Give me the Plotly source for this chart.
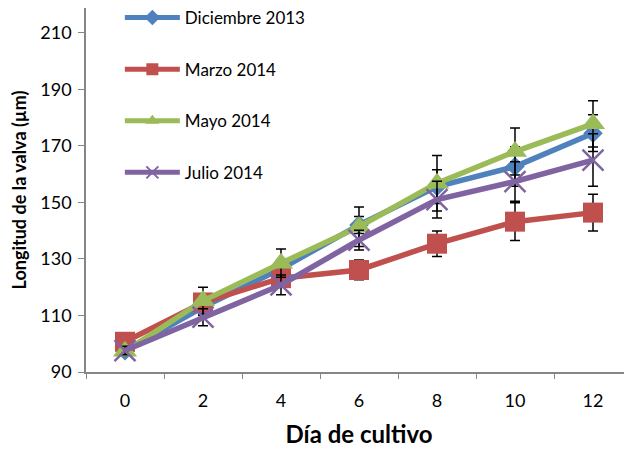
import plotly.graph_objects as go

days = ["0", "2", "4", "6", "8", "10", "12"]

dic2013 = [97.5, 113.0, 126.5, 142.0, 155.6, 162.7, 174.5]
dic2013_err = [1.5, 3.0, 3.0, 3.0, 6.0, 7.0, 6.5]

mar2014 = [100.7, 114.6, 123.2, 126.1, 135.4, 143.2, 146.4]
mar2014_err = [1.5, 3.0, 3.0, 3.5, 4.5, 6.7, 6.5]

may2014 = [97.3, 115.2, 128.5, 141.4, 156.8, 168.0, 177.8]
may2014_err = [1.5, 4.8, 5.0, 7.0, 9.8, 8.3, 8.2]

jul2014 = [97.6, 109.4, 120.8, 136.7, 151.0, 157.4, 165.0]
jul2014_err = [1.5, 3.0, 3.5, 3.5, 6.5, 7.0, 9.3]

y_range = [90, 218.8]

series = [
    ("Diciembre 2013", dic2013, dic2013_err, "#4F81BD", "diamond", 15),
    ("Marzo 2014", mar2014, mar2014_err, "#C0504D", "square", 20),
    ("Mayo 2014", may2014, may2014_err, "#9BBB59", "triangle-up", 21),
    ("Julio 2014", jul2014, jul2014_err, "#8064A2", "x-thin", 21),
]

fig = go.Figure()
for name, vals, errs, color, sym, size in series:
    marker = dict(symbol=sym, size=size, color=color)
    if sym == "x-thin":
        marker["line"] = dict(color=color, width=2.5)
    fig.add_trace(go.Scatter(
        x=days, y=vals, name=name, mode="lines+markers",
        line=dict(color=color, width=5.5),
        marker=marker,
        legendgroup=name,
        error_y=dict(type="data", array=errs, visible=True,
                     color="black", thickness=1.5, width=5),
    ))

font_family = "Lato, 'Open Sans', sans-serif"
axis_color = "#868686"

fig.update_layout(
    width=624, height=445,
    margin=dict(l=78, r=0, t=0, b=81, autoexpand=False),
    paper_bgcolor="white", plot_bgcolor="white",
    font=dict(family=font_family, color="black", size=17),
    showlegend=True,
    legend=dict(
        x=0.062, y=1.022, xanchor="left", yanchor="top",
        bgcolor="rgba(0,0,0,0)",
        font=dict(size=17, family=font_family),
        tracegroupgap=26.5,
        itemsizing="constant",
        itemwidth=55,
    ),
    xaxis=dict(
        type="category",
        tickson="boundaries",
        ticks="outside", ticklen=5, tickcolor=axis_color,
        showline=True, linecolor=axis_color, linewidth=1.5,
        showgrid=False, zeroline=False,
        tickfont=dict(size=18),
        ticklabelstandoff=12,
        range=[-0.5, 6.5],
        automargin=False,
        title=dict(text="<b>Día de cultivo</b>", font=dict(size=24), standoff=16),
    ),
    yaxis=dict(
        range=y_range, tick0=90, dtick=20,
        ticks="outside", ticklen=6, tickcolor=axis_color,
        showline=True, linecolor=axis_color, linewidth=1.5,
        showgrid=False, zeroline=False,
        tickfont=dict(size=18),
        ticklabelstandoff=3,
        automargin=False,
        title=dict(text="<b>Longitud de la valva (µm)</b>", font=dict(size=18), standoff=22),
    ),
)

fig.write_html("out.html")
